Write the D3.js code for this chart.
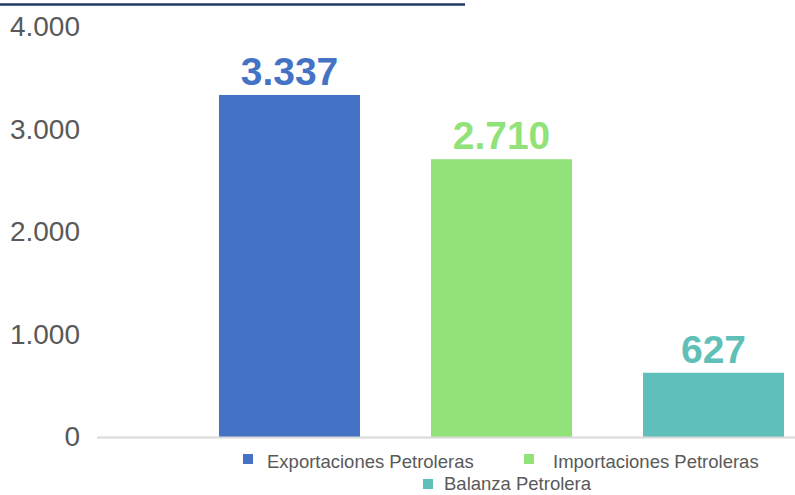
<!DOCTYPE html>
<html><head><meta charset="utf-8">
<script src="https://cdn.jsdelivr.net/npm/d3@7"></script>
<style>body{margin:0;background:#fff}svg{display:block;font-family:"Liberation Sans",Arial,sans-serif}</style>
</head><body>
<svg id="c" width="795" height="495"></svg>
<script>
const categories = ["Exportaciones Petroleras", "Importaciones Petroleras", "Balanza Petrolera"];
const values = [3337, 2710, 627];
const labels = ["3.337", "2.710", "627"];
const colors = ["#4472C4", "#92E27A", "#5FBFB9"];
const tickValues = [0, 1000, 2000, 3000, 4000];
const tickLabels = ["0", "1.000", "2.000", "3.000", "4.000"];

const svg = d3.select("#c");
const y = d3.scaleLinear().domain([0, 4000]).range([437, 27]);
const x = d3.scaleBand().domain(categories).range([183.5, 819.5]).paddingInner(0.335).paddingOuter(0.1675);

// top rule
svg.append("line").attr("x1", 0).attr("x2", 465).attr("y1", 4.5).attr("y2", 4.5)
  .attr("stroke", "#1F3864").attr("stroke-width", 2.5);

// y axis labels
const yAxis = d3.axisLeft(y).tickValues(tickValues).tickFormat((d, i) => tickLabels[i]).tickSize(0).tickPadding(0);
const ga = svg.append("g").attr("transform", "translate(80,0)").call(yAxis);
ga.select(".domain").remove();
ga.selectAll("text").attr("font-size", 28).attr("fill", "#595959")
  .attr("font-family", "'Liberation Sans',Arial,sans-serif");

// bars
svg.selectAll("rect.bar").data(values).enter().append("rect").attr("class", "bar")
  .attr("x", (d, i) => x(categories[i])).attr("width", x.bandwidth())
  .attr("y", d => y(d)).attr("height", d => y(0) - y(d))
  .attr("fill", (d, i) => colors[i]);

// baseline
svg.append("line").attr("x1", 97).attr("x2", 795).attr("y1", y(0) + 0.5).attr("y2", y(0) + 0.5)
  .attr("stroke", "#D9D9D9").attr("stroke-width", 2);

// value labels
svg.selectAll("text.val").data(values).enter().append("text").attr("class", "val")
  .attr("x", (d, i) => x(categories[i]) + x.bandwidth() / 2)
  .attr("y", d => y(d) - 10)
  .attr("text-anchor", "middle").attr("font-size", 39).attr("font-weight", "bold")
  .attr("fill", (d, i) => colors[i]).text((d, i) => labels[i]);

// legend
const legendPos = [[243, 454], [524, 454], [423, 479]];
const textOff = [24, 29, 21];
const textY = [14, 14, 11];
const lg = svg.selectAll("g.lg").data(categories).enter().append("g").attr("class", "lg")
  .attr("transform", (d, i) => `translate(${legendPos[i][0]},${legendPos[i][1]})`);
lg.append("rect").attr("width", 10).attr("height", 10).attr("fill", (d, i) => colors[i]);
lg.append("text").attr("x", (d, i) => textOff[i]).attr("y", (d, i) => textY[i])
  .attr("font-size", 18.5).attr("fill", "#595959").text(d => d);
</script>
</body></html>
